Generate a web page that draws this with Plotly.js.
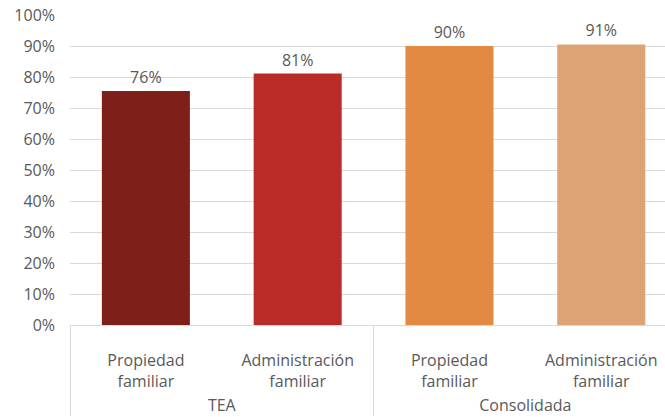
<!DOCTYPE html>
<html>
<head>
<meta charset="utf-8">
<script src="https://cdn.plot.ly/plotly-3.0.1.min.js"></script>
<style>html,body{margin:0;padding:0;background:#fff;}#chart{width:665px;height:417px;}</style>
</head>
<body>
<div id="chart"></div>
<script>
const groups = ["TEA", "TEA", "Consolidada", "Consolidada"];
const categories = ["Propiedad<br>familiar", "Administración<br>familiar", "Propiedad<br>familiar", "Administración<br>familiar"];
const values = [75.5, 81.1, 90.0, 90.5];
const labels = ["76%", "81%", "90%", "91%"];
const colors = ["#7F1F19", "#BA2A27", "#E38A42", "#DDA374"];

const font = {family: "'Open Sans', Roboto, sans-serif", size: 16, color: "#595959"};

Plotly.newPlot("chart", [{
  type: "bar",
  x: [groups, categories.map(c => "&nbsp;<br>" + c)],
  y: values,
  text: labels,
  textposition: "outside",
  textfont: font,
  cliponaxis: false,
  marker: {color: colors},
  hoverinfo: "none"
}], {
  width: 665, height: 417,
  margin: {l: 70, r: 0, t: 15, b: 92},
  paper_bgcolor: "#fff", plot_bgcolor: "#fff",
  bargap: 0.42,
  font: font,
  showlegend: false,
  xaxis: {
    type: "multicategory",
    range: [-0.5, 3.42],
    showline: true, linecolor: "#d9d9d9", linewidth: 1,
    showgrid: false, zeroline: false,
    showdividers: true, dividercolor: "#d9d9d9", dividerwidth: 1,
    tickfont: font, ticks: ""
  },
  yaxis: {
    range: [0, 100], dtick: 10, ticksuffix: "%",
    showgrid: true, gridcolor: "#d9d9d9", gridwidth: 1,
    zeroline: false, showline: false,
    tickfont: font, ticks: "", ticklabelstandoff: 14
  }
}, {staticPlot: true});
</script>
</body>
</html>
